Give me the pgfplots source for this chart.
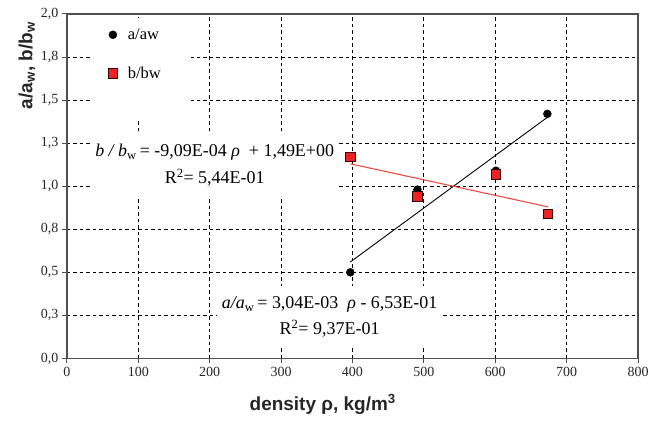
\documentclass[border=0pt]{standalone}
\usepackage{pgfplots}
\pgfplotsset{compat=1.18}
\usepackage{pgfplotstable}
\usepackage{fontspec}
\setmainfont{Liberation Serif}
\setsansfont{Liberation Sans}

\definecolor{sqred}{HTML}{EE2222}
\definecolor{fitred}{HTML}{F04A40}
\definecolor{axgrey}{HTML}{505050}

% measured points (density, ratio)
\pgfplotstableread{
rho  aw
397  0.50
491  0.98
601  1.09
673  1.42
}\awdata
\pgfplotstableread{
rho  bw
397  1.17
491  0.94
601  1.07
674  0.84
}\bwdata
% linear fits, end points
\pgfplotstableread{
rho  aw
397  0.56
673  1.40
}\awfit
\pgfplotstableread{
rho  bw
397  1.13
674  0.88
}\bwfit

\begin{document}
\begin{tikzpicture}
\begin{axis}[
  width=572pt, height=345pt, scale only axis,
  clip=false,
  xmin=0, xmax=800, ymin=0, ymax=2,
  xtick={0,100,...,800},
  ytick={0,0.25,0.5,0.75,1,1.25,1.5,1.75,2},
  yticklabels={{0,0},{0,3},{0,5},{0,8},{1,0},{1,3},{1,5},{1,8},{2,0}},
  /pgf/number format/assume math mode=true,
  ticklabel style={font=\fontsize{14}{16}\selectfont, text=black!85},
  grid=major,
  major grid style={black, line width=0.9pt, dash pattern=on 3.5pt off 3pt},
  axis line style={draw=axgrey, line width=1.3pt},
  tick align=outside, tick pos=left,
  major tick length=5pt,
  tick style={draw=axgrey, line width=1pt},
  xlabel={density ρ, kg/m\textsuperscript{3}},
  xlabel style={font=\sffamily\bfseries\fontsize{19}{21}\selectfont, text=black!85,
    at={(axis description cs:0.448,0)}, anchor=center, yshift=-46pt},
  legend style={at={(axis description cs:0.04,0.99)}, anchor=north west,
    draw=none, fill=white, font=\fontsize{16.5}{18}\selectfont,
    row sep=22pt, inner xsep=6pt, inner ysep=9pt},
  legend cell align=left,
  legend image code/.code={\path[draw=none, fill=none] (0pt,0pt) -- (30pt,0pt);
    \draw[#1] plot coordinates {(17pt,0pt)};},
]
  \addplot[only marks, mark=*, mark size=4pt, black] table[x=rho, y=aw] {\awdata};
  \addlegendentry{a/aw}
  \addplot[only marks, mark=square*, mark size=4.8pt,
    mark options={fill=sqred, draw=black!80!red, line width=0.8pt}]
    table[x=rho, y=bw] {\bwdata};
  \addlegendentry{b/bw}
  \addlegendimage{empty legend}
  \addlegendentry{\hspace*{55pt}}
  \addplot[black, line width=0.9pt, forget plot] table[x=rho, y=aw] {\awfit};
  \addplot[fitred, line width=1.1pt, forget plot] table[x=rho, y=bw] {\bwfit};

  % y axis title, kept near the top as in the original
  \node[rotate=90, font=\sffamily\bfseries\fontsize{19}{21}\selectfont, text=black!85]
    at (axis description cs:-0.07,0.85)
    {a/a\textsubscript{w}, b/b\textsubscript{w}};

  \node[fill=white, align=center, inner sep=0pt, minimum width=250pt,
    minimum height=65pt, font=\fontsize{18}{27}\selectfont]
    at (axis cs:207,1.12)
    {\textit{b / b}\textsubscript{w}\,= -9,09E-04 \textit{ρ} \ + 1,49E+00\\
     R\textsuperscript{2}= 5,44E-01};
  \node[fill=white, align=center, inner sep=0pt, minimum width=225pt,
    minimum height=62pt, font=\fontsize{18}{26}\selectfont]
    at (axis cs:368,0.24)
    {\textit{a/a}\textsubscript{w}\,= 3,04E-03 \ \textit{ρ} - 6,53E-01\\
     R\textsuperscript{2}= 9,37E-01};
\end{axis}
\path ([shift={(-67pt,-66pt)}]current axis.south west)
  rectangle ([shift={(14pt,14pt)}]current axis.north east);
\end{tikzpicture}
\end{document}
